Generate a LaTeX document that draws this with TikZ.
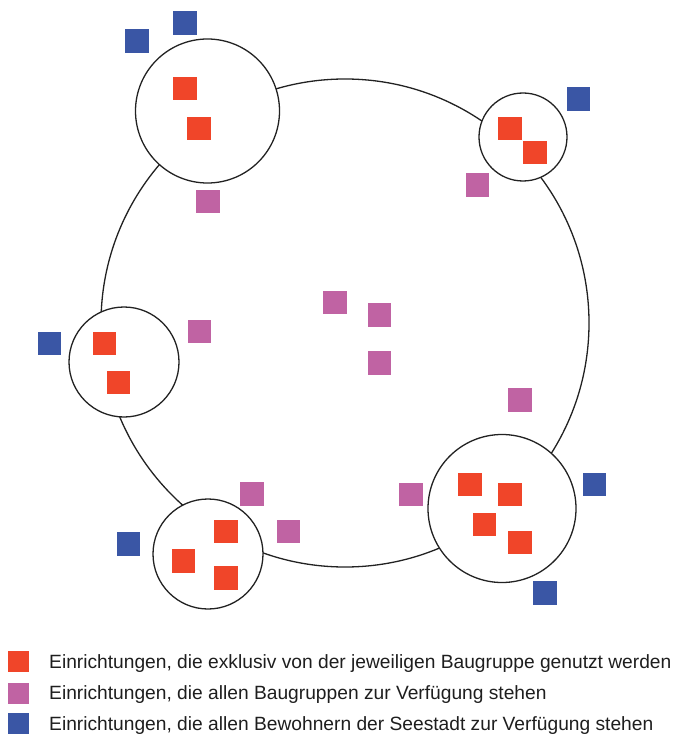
\documentclass[tikz,border=0pt]{standalone}
\usepackage{fontspec}
\setmainfont{Liberation Sans}
\definecolor{cred}{HTML}{F04529}
\definecolor{cmag}{HTML}{C063A3}
\definecolor{cblue}{HTML}{3A56A5}
\definecolor{cline}{HTML}{222222}
\definecolor{ctext}{HTML}{1E1E1E}
\tikzset{
  ring/.style={circle, draw=cline, line width=1.3pt, fill=white, inner sep=0pt},
  sq/.style={rectangle, inner sep=0pt, minimum size=23.5pt},
  redsq/.style={sq, fill=cred},
  magsq/.style={sq, fill=cmag},
  bluesq/.style={sq, fill=cblue},
  legsq/.style={rectangle, inner sep=0pt, minimum size=21pt},
  legtext/.style={anchor=base west, inner sep=0pt, text=ctext, font=\fontsize{19.2}{22}\selectfont},
}
\begin{document}
\begin{tikzpicture}[x=1pt,y=-1pt]
\useasboundingbox (0,0) rectangle (673,735);
% main circle
\node[ring, minimum size=488pt] (big) at (345,323) {};
% group circles
\node[ring, minimum size=144pt] (ctl) at (207.5,111) {};
\node[ring, minimum size=88pt] (ctr) at (523,137) {};
\node[ring, minimum size=110pt] (cl) at (124,362) {};
\node[ring, minimum size=110pt] (cbl) at (208,554) {};
\node[ring, minimum size=148pt] (cbr) at (502,508.5) {};
% exclusive facilities
\node[redsq] (r1) at (185,88.5) {};
\node[redsq] (r2) at (199,128.5) {};
\node[redsq] (r3) at (510,128.5) {};
\node[redsq] (r4) at (535,152.5) {};
\node[redsq] (r5) at (104.5,343.5) {};
\node[redsq] (r6) at (118.5,382.5) {};
\node[redsq] (r7) at (226,531.5) {};
\node[redsq] (r8) at (183.5,561) {};
\node[redsq] (r9) at (226,578) {};
\node[redsq] (r10) at (470,484.5) {};
\node[redsq] (r11) at (510,494.5) {};
\node[redsq] (r12) at (484.5,524.5) {};
\node[redsq] (r13) at (520,542.5) {};
% shared by all groups
\node[magsq] (m1) at (208,201.5) {};
\node[magsq] (m2) at (477.5,185) {};
\node[magsq] (m3) at (199.5,331.5) {};
\node[magsq] (m4) at (335,302.5) {};
\node[magsq] (m5) at (379.5,315) {};
\node[magsq] (m6) at (379.5,363) {};
\node[magsq] (m7) at (520,400) {};
\node[magsq] (m8) at (411,494.5) {};
\node[magsq] (m9) at (252,494) {};
\node[magsq] (m10) at (288.5,531.5) {};
% for all residents
\node[bluesq] (b1) at (185,23) {};
\node[bluesq] (b2) at (137,41) {};
\node[bluesq] (b3) at (578.5,99) {};
\node[bluesq] (b4) at (49.5,343.5) {};
\node[bluesq] (b5) at (128.5,544) {};
\node[bluesq] (b6) at (594.5,484.5) {};
\node[bluesq] (b7) at (545,593) {};
% legend
\node[legsq, fill=cred] (l1) at (18.5,661.5) {};
\node[legsq, fill=cmag] (l2) at (18.5,693) {};
\node[legsq, fill=cblue] (l3) at (18.5,723) {};
\node[legtext] (t1) at (49,668) {Einrichtungen, die exklusiv von der jeweiligen Baugruppe genutzt werden};
\node[legtext] (t2) at (49,699) {Einrichtungen, die allen Baugruppen zur Verfügung stehen};
\node[legtext] (t3) at (49,730) {Einrichtungen, die allen Bewohnern der Seestadt zur Verfügung stehen};
\end{tikzpicture}
\end{document}
